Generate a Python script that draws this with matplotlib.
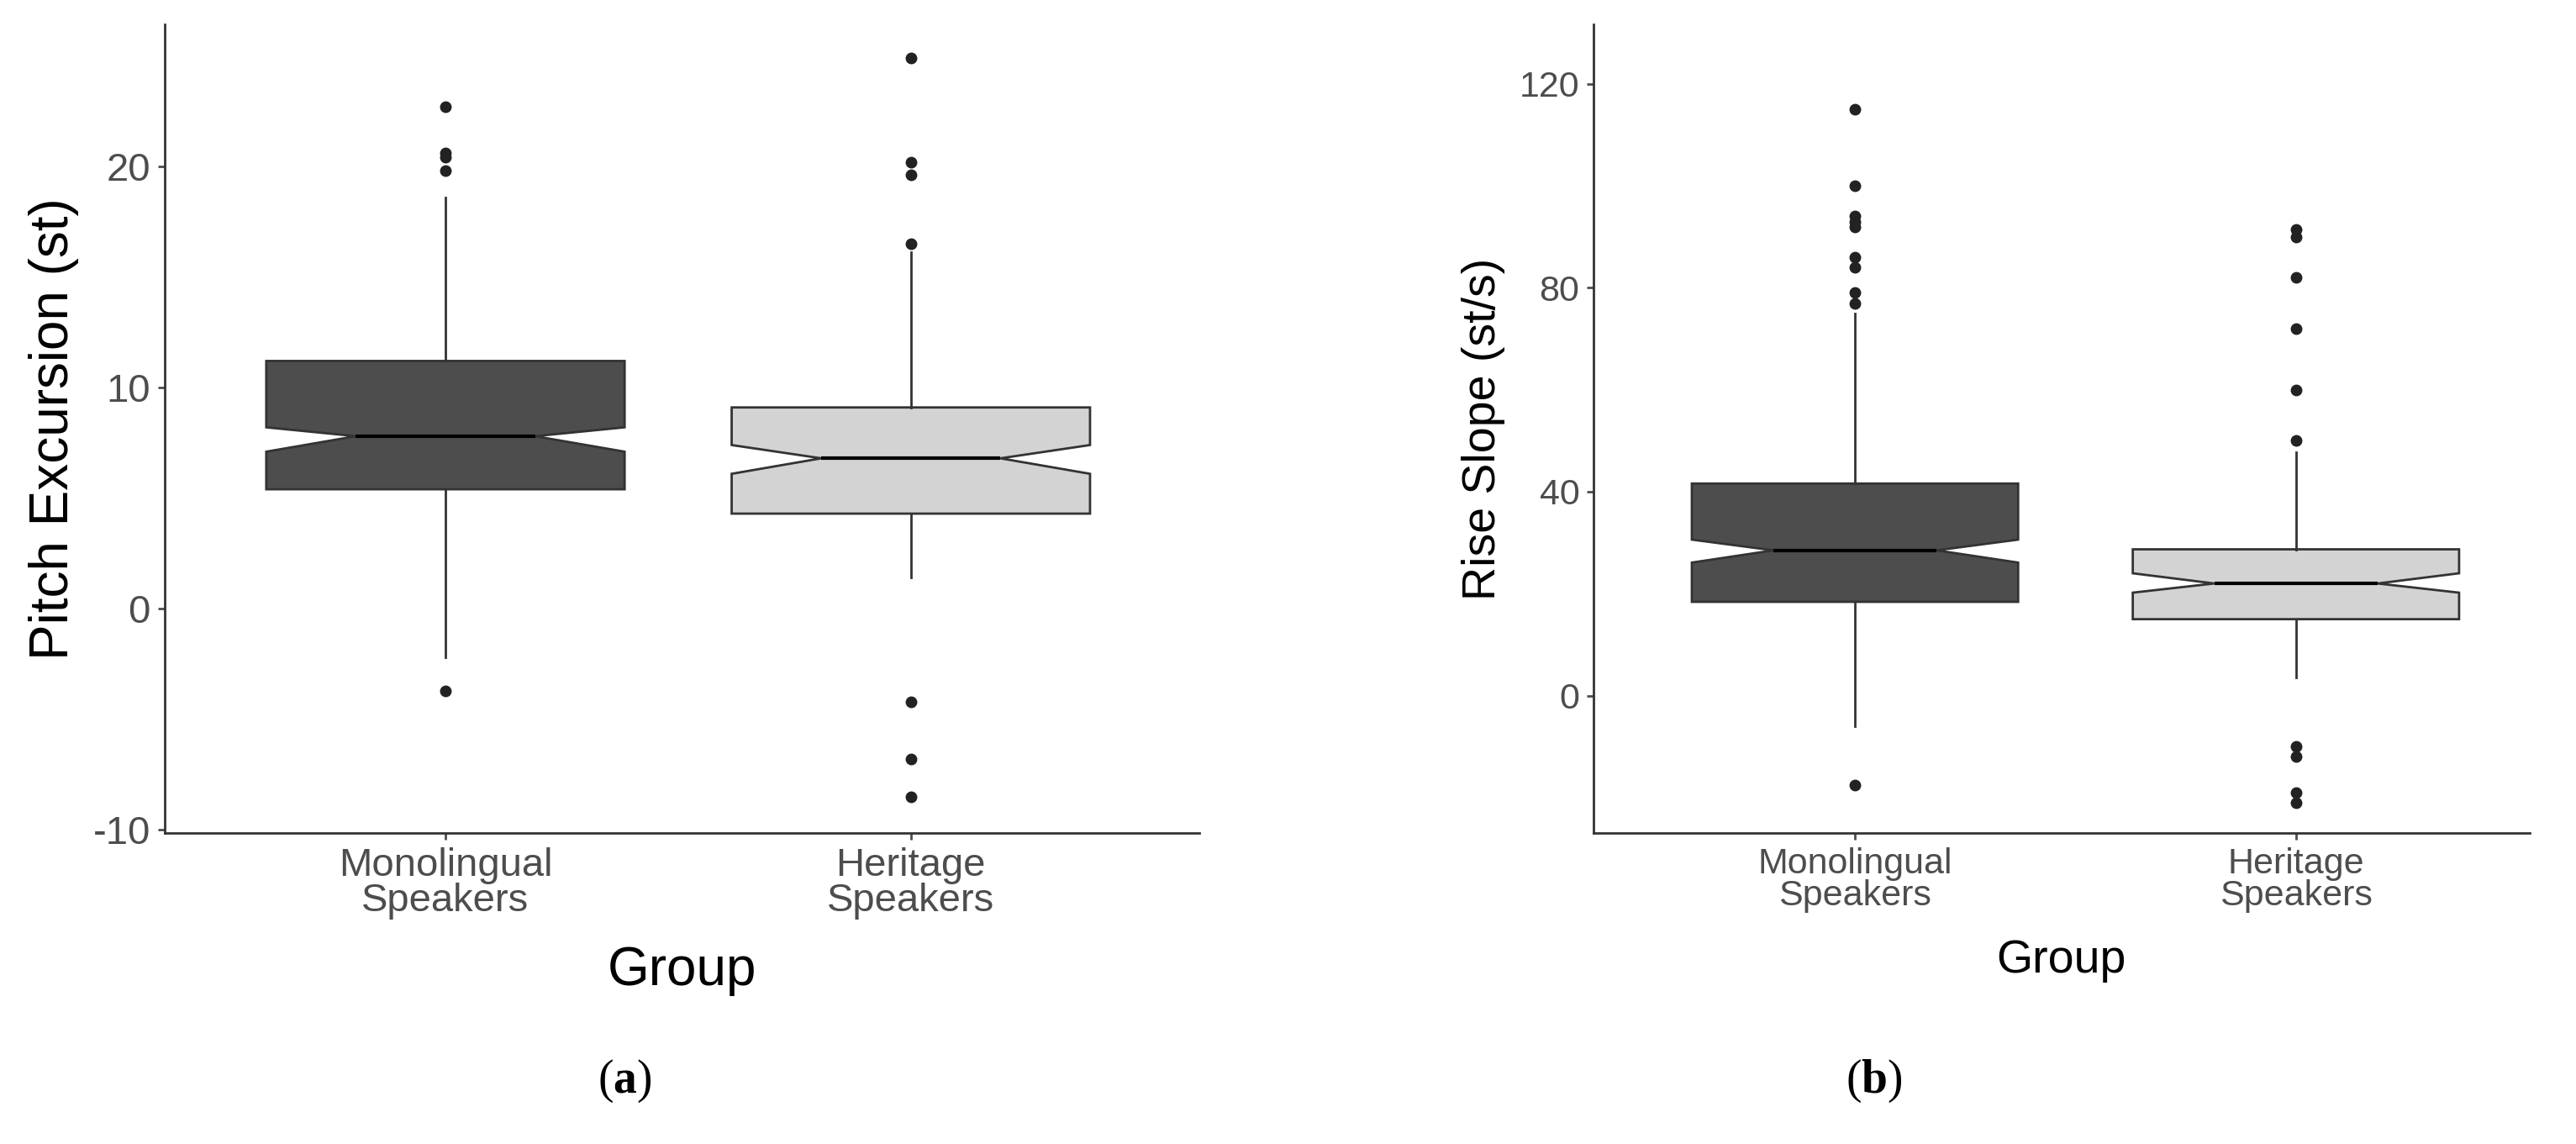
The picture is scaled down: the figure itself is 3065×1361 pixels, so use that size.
import matplotlib
matplotlib.use("Agg")
import matplotlib.pyplot as plt

groups = ["Monolingual\nSpeakers", "Heritage\nSpeakers"]
colors = ["#4d4d4d", "#d3d3d3"]

# (a) Pitch excursion (st)
pe_stats = [
    dict(med=7.8, q1=5.4, q3=11.2, whislo=-2.2, whishi=18.6, cilo=7.1, cihi=8.2,
         fliers=[-3.7, 19.8, 20.4, 20.6, 22.7]),
    dict(med=6.8, q1=4.3, q3=9.1, whislo=1.4, whishi=16.1, cilo=6.1, cihi=7.4,
         fliers=[-8.5, -6.8, -4.2, 16.5, 19.6, 20.2, 24.9]),
]
pe_ticks = [-10, 0, 10, 20]

# (b) Rise slope (st/s)
rs_stats = [
    dict(med=28.5, q1=18.4, q3=41.6, whislo=-6, whishi=75, cilo=26.1, cihi=30.6,
         fliers=[-17.5, 77, 79, 84, 86, 92, 93, 94, 100, 115]),
    dict(med=22, q1=15, q3=28.7, whislo=3.5, whishi=47.7, cilo=20.2, cihi=24,
         fliers=[-21, -19, -12, -10, 50, 60, 72, 82, 90, 91.5]),
]
rs_ticks = [0, 40, 80, 120]

plt.rcParams['font.family'] = ['Liberation Sans', 'DejaVu Sans']
plt.rcParams['axes.unicode_minus'] = False
plt.rcParams['mathtext.fontset'] = 'custom'
plt.rcParams['mathtext.rm'] = 'Liberation Serif'
plt.rcParams['mathtext.bf'] = 'Liberation Serif:bold'
fig = plt.figure(figsize=(30.65, 13.61), dpi=100)


def panel(rect, stats, ticks, ylim, xlim, width, ylabel, tfs, lfs):
    ax = fig.add_axes(rect)
    bp = ax.bxp(stats, positions=[1, 2], widths=width, shownotches=True,
                patch_artist=True,
                boxprops=dict(edgecolor="#333333", linewidth=2),
                medianprops=dict(color="black", linewidth=3),
                whiskerprops=dict(color="#333333", linewidth=2),
                capprops=dict(linewidth=0),
                flierprops=dict(marker="o", markersize=9, markerfacecolor="#222222",
                                markeredgecolor="#222222"))
    for p, c in zip(bp["boxes"], colors):
        p.set_facecolor(c)
    ax.set_xlim(*xlim)
    ax.set_ylim(*ylim)
    ax.set_yticks(ticks)
    ax.set_xticks([1, 2])
    ax.set_xticklabels(groups, linespacing=0.95)
    ax.tick_params(labelsize=tfs, colors="#4d4d4d", length=6, width=2, pad=6)
    for s in ["top", "right"]:
        ax.spines[s].set_visible(False)
    for s in ["left", "bottom"]:
        ax.spines[s].set_linewidth(2)
        ax.spines[s].set_color("#333333")
    ax.set_ylabel(ylabel, fontsize=lfs, labelpad=12)
    ax.set_xlabel("Group", fontsize=lfs, labelpad=22)
    return ax


panel([0.0638, 0.2716, 0.4018, 0.7068], pe_stats, pe_ticks, (-10.15, 26.4),
      (0.396, 2.62), 0.77, "Pitch Excursion (st)", 34, 46)
panel([0.6186, 0.2716, 0.3634, 0.7068], rs_stats, rs_ticks, (-27, 131.6),
      (0.407, 2.53), 0.74, "Rise Slope (st/s)", 31, 40)

fig.text(0.2425, 0.045, r"($\mathbf{a}$)", fontsize=40, family="Liberation Serif", ha="center")
fig.text(0.7275, 0.045, r"($\mathbf{b}$)", fontsize=40, family="Liberation Serif", ha="center")

fig.savefig("out.png", dpi=100)
